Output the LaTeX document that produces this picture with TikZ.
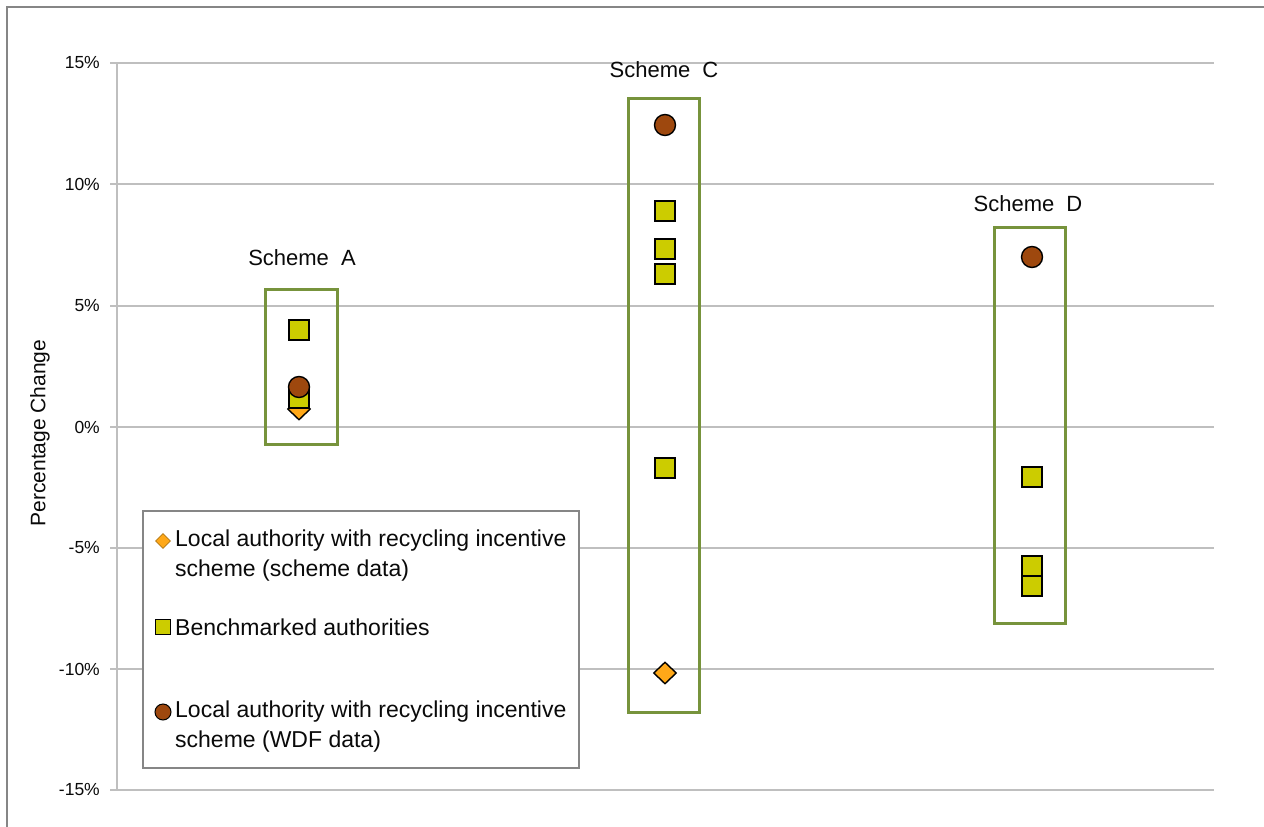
\documentclass[tikz,border=0pt]{standalone}
\usepackage{fontspec}
\setmainfont{Liberation Sans}
\usetikzlibrary{shapes.geometric}
\definecolor{gridgray}{RGB}{191,191,191}
\definecolor{framegray}{RGB}{134,134,134}
\definecolor{boxgreen}{RGB}{119,147,60}
\definecolor{sqfill}{RGB}{204,204,0}
\definecolor{circfill}{RGB}{158,72,14}
\definecolor{diafill}{RGB}{255,168,24}
\definecolor{inkgray}{RGB}{10,10,10}
\begin{document}
\begin{tikzpicture}[x=1pt,y=-1pt,
  gridline/.style={gridgray, line width=1.5pt},
  ticklabel/.style={anchor=east, inner sep=0pt, text=inkgray, font=\fontsize{17.5}{20}\selectfont},
  schemebox/.style={boxgreen, line width=3pt},
  schemelabel/.style={inner sep=0pt, text=inkgray, font=\fontsize{22}{26}\selectfont},
  sqmark/.style={rectangle, draw=black, line width=1.4pt, fill=sqfill, minimum size=20pt, inner sep=0pt},
  circmark/.style={circle, draw=black, line width=1.4pt, fill=circfill, minimum size=21pt, inner sep=0pt},
  diamark/.style={diamond, draw=black, line width=1.4pt, fill=diafill, minimum width=23pt, minimum height=22pt, inner sep=0pt},
  legtext/.style={anchor=west, align=left, inner sep=0pt, text=inkgray, font=\fontsize{23}{30}\selectfont},
  legframe/.style={framegray, line width=1.5pt}
]
\useasboundingbox (0,0) rectangle (1264,827);
\fill[white] (0,0) rectangle (1264,827);
% outer frame (top and left edges)
\draw[framegray, line width=2pt] (7,827) -- (7,7) -- (1264,7);

% horizontal grid lines with tick labels
\foreach \y/\lab [count=\i] in {63/15\%,184/10\%,306/5\%,427/0\%,548/-5\%,669/-10\%,790/-15\%} {
  \draw[gridline] (110,\y) -- (1214,\y);
  \node[ticklabel] (tick\i) at (100,\y) {\lab};
}
% vertical axis
\draw[gridline] (117,63) -- (117,790);

% axis title
\node[rotate=90, inner sep=0pt, text=inkgray, font=\fontsize{21}{25}\selectfont] (ytitle) at (40,433) {Percentage Change};

% scheme frames and labels
\draw[schemebox] (265,289) rectangle (337,444);
\draw[schemebox] (628,98) rectangle (699,712);
\draw[schemebox] (994,227) rectangle (1065,623);
\node[schemelabel] (labA) at (302,258) {Scheme\hspace{0.55em}A};
\node[schemelabel] (labC) at (664,70) {Scheme\hspace{0.55em}C};
\node[schemelabel] (labD) at (1028,204) {Scheme\hspace{0.55em}D};

% Scheme A
\node[diamark] (a1) at (299,409) {};
\node[sqmark] (a2) at (299,398) {};
\node[circmark] (a3) at (299,387) {};
\node[sqmark] (a4) at (299,330) {};

% Scheme C
\node[diamark] (c1) at (665,673) {};
\node[sqmark] (c2) at (665,468) {};
\node[sqmark] (c3) at (665,274) {};
\node[sqmark] (c4) at (665,249) {};
\node[sqmark] (c5) at (665,211) {};
\node[circmark] (c6) at (665,125) {};

% Scheme D
\node[sqmark] (d1) at (1032,586) {};
\node[sqmark] (d2) at (1032,566) {};
\node[sqmark] (d3) at (1032,477) {};
\node[circmark] (d4) at (1032,257) {};

% legend
\draw[legframe, fill=white] (143,511) rectangle (579,768);
\node[diamark, minimum width=15pt, minimum height=15pt, line width=0.8pt, draw=diafill!70!black] (ld) at (163,541) {};
\node[legtext] (lt1) at (175,556) {Local authority with recycling incentive\\scheme (scheme data)};
\node[sqmark, minimum size=15pt, line width=1pt] (ls) at (163,627) {};
\node[legtext] (lt2) at (175,627) {Benchmarked authorities};
\node[circmark, minimum size=16pt, line width=1pt] (lc) at (163,712) {};
\node[legtext] (lt3) at (175,727) {Local authority with recycling incentive\\scheme (WDF data)};
\end{tikzpicture}
\end{document}
